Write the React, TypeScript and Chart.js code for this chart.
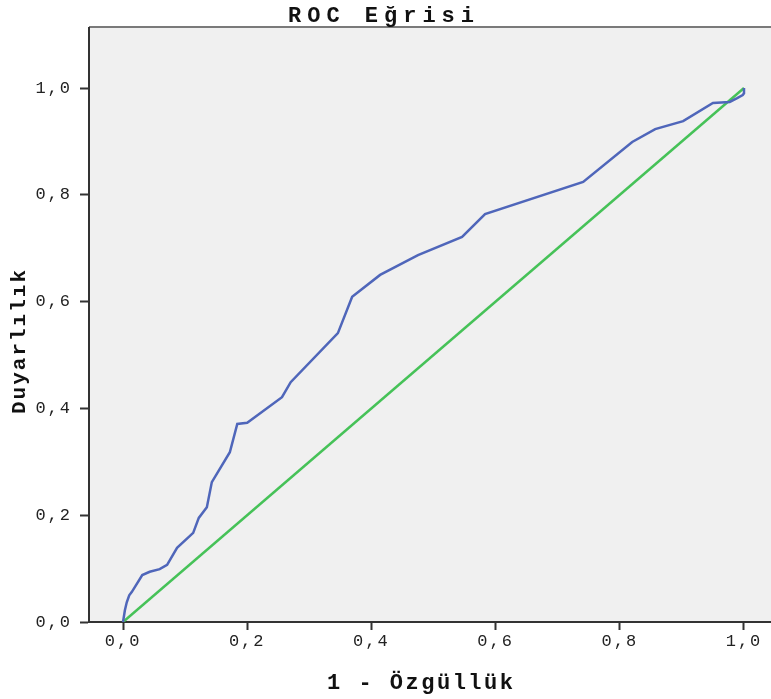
import React, { useEffect, useRef } from "react";
import { Chart, registerables } from "chart.js";

Chart.register(...registerables);

// ROC curve: 1 - specificity (x) vs sensitivity (y)
const rocFpr = [
  0, 0.003, 0.006, 0.01, 0.014, 0.031, 0.043, 0.059, 0.071, 0.087, 0.113, 0.122,
  0.135, 0.143, 0.172, 0.184, 0.2, 0.256, 0.27, 0.346, 0.369, 0.414, 0.475,
  0.546, 0.583, 0.741, 0.82, 0.857, 0.902, 0.95, 0.977, 0.989, 0.998, 1.0, 1.0,
];
const rocTpr = [
  0, 0.022, 0.037, 0.05, 0.056, 0.088, 0.094, 0.099, 0.107, 0.139, 0.167, 0.195,
  0.215, 0.262, 0.318, 0.371, 0.373, 0.421, 0.449, 0.541, 0.609, 0.65, 0.687,
  0.721, 0.764, 0.824, 0.899, 0.923, 0.938, 0.972, 0.974, 0.981, 0.987, 0.99, 1.0,
];
// Reference (chance) line
const refX = [0, 1];
const refY = [0, 1];

const tickValues = [0, 0.2, 0.4, 0.6, 0.8, 1.0];
const titleText = "ROC Eğrisi";
const xTitleText = "1 - Özgüllük";
const yTitleText = "Duyarlılık";

const MONO = "'Liberation Mono', 'Courier New', monospace";

const fmt = (v: number) => Number(v).toFixed(1).replace(".", ",");

export default function App() {
  const ref = useRef<HTMLCanvasElement | null>(null);

  useEffect(() => {
    if (!ref.current) return;

    const spacingPlugin = {
      id: "spacing",
      beforeLayout(chart: any) {
        chart.ctx.letterSpacing = "2px";
      },
      beforeDraw(chart: any) {
        const ctx = chart.ctx;
        ctx.letterSpacing = "2px";
        const a = chart.chartArea;
        ctx.save();
        ctx.fillStyle = "#F0F0F0";
        ctx.fillRect(a.left, a.top, a.right - a.left, a.bottom - a.top);
        ctx.fillStyle = "#7a7a7a";
        ctx.fillRect(a.left, a.top - 2, a.right - a.left, 2);
        ctx.restore();
      },
      afterDraw(chart: any) {
        const ctx = chart.ctx;
        ctx.save();
        ctx.fillStyle = "#111";
        ctx.textAlign = "center";
        ctx.textBaseline = "middle";
        ctx.font = `bold 22px ${MONO}`;
        ctx.letterSpacing = "6px";
        ctx.fillText(titleText, 381 + 3, 16);
        ctx.font = `bold 22px ${MONO}`;
        ctx.letterSpacing = "2.5px";
        ctx.fillText(xTitleText, 420 + 1.25, 683);
        ctx.translate(20, 342);
        ctx.rotate(-Math.PI / 2);
        ctx.font = `bold 21px ${MONO}`;
        ctx.letterSpacing = "2px";
        ctx.fillText(yTitleText, 1, 0);
        ctx.restore();
      },
    };

    const chart = new Chart(ref.current, {
      type: "line",
      data: {
        datasets: [
          {
            label: "ROC",
            data: rocFpr.map((x, i) => ({ x, y: rocTpr[i] })),
            borderColor: "#4F66BA",
            borderWidth: 2.5,
            pointRadius: 0,
            tension: 0,
            fill: false,
          },
          {
            label: "Referans",
            data: refX.map((x, i) => ({ x, y: refY[i] })),
            borderColor: "#46C258",
            borderWidth: 2.5,
            pointRadius: 0,
            tension: 0,
            fill: false,
          },
        ],
      },
      options: {
        animation: false,
        responsive: true,
        maintainAspectRatio: false,
        layout: { padding: { top: 28, right: 0, bottom: 0, left: 0 } },
        plugins: {
          legend: { display: false },
          title: { display: false },
          tooltip: { enabled: false },
        },
        scales: {
          x: {
            type: "linear",
            min: -0.0548,
            max: 1.0435,
            afterFit: (s: any) => {
              s.height = 77;
            },
            afterBuildTicks: (s: any) => {
              s.ticks = tickValues.map((v) => ({ value: v }));
            },
            ticks: {
              stepSize: 0.2,
              includeBounds: false,
              callback: (v: any) => fmt(v),
              color: "#222",
              font: { family: MONO, size: 17 },
              padding: 1,
              maxRotation: 0,
              autoSkip: false,
            },
            grid: {
              drawOnChartArea: false,
              drawTicks: true,
              tickLength: 8,
              tickWidth: 2,
              tickColor: "#333",
            },
            border: { display: true, color: "#333", width: 2 },
          },
          y: {
            type: "linear",
            min: 0,
            max: 1.1124,
            afterFit: (s: any) => {
              s.width = 89;
            },
            afterBuildTicks: (s: any) => {
              s.ticks = tickValues.map((v) => ({ value: v }));
            },
            ticks: {
              stepSize: 0.2,
              includeBounds: false,
              callback: (v: any) => fmt(v),
              color: "#222",
              font: { family: MONO, size: 17 },
              padding: 8,
              autoSkip: false,
            },
            grid: {
              drawOnChartArea: false,
              drawTicks: true,
              tickLength: 9,
              tickWidth: 2,
              tickColor: "#333",
            },
            border: { display: true, color: "#333", width: 2 },
          },
        },
      },
      plugins: [spacingPlugin],
    } as any);

    return () => chart.destroy();
  }, []);

  return (
    <div
      style={{
        position: "absolute",
        left: 0,
        top: 0,
        width: 771,
        height: 699,
        background: "#fff",
      }}
    >
      <canvas ref={ref} />
    </div>
  );
}
